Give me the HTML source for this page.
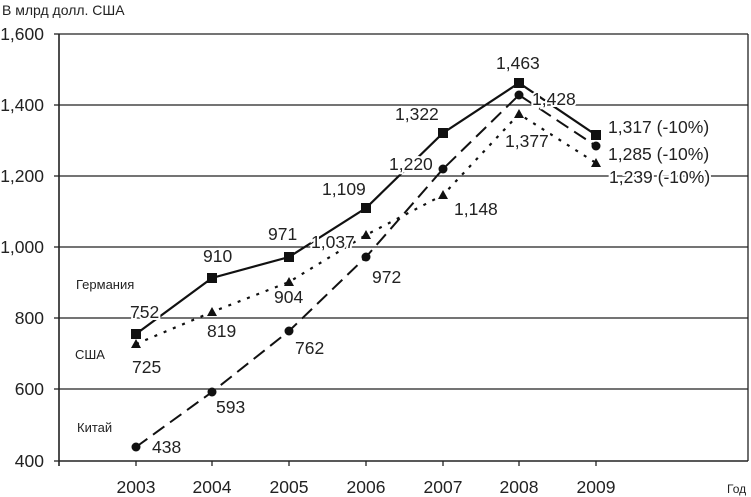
<!DOCTYPE html>
<html><head><meta charset="utf-8"><style>
body{margin:0;background:#fff}
svg{display:block;font-family:"Liberation Sans",Arial,sans-serif}
</style></head><body>
<svg width="751" height="497" viewBox="0 0 751 497">
<rect width="751" height="497" fill="#fff"/>
<g stroke="#222" stroke-width="1.3">
<line x1="59" y1="34" x2="748" y2="34"/>
<line x1="59" y1="105" x2="748" y2="105"/>
<line x1="59" y1="176" x2="748" y2="176"/>
<line x1="59" y1="247" x2="748" y2="247"/>
<line x1="59" y1="318" x2="748" y2="318"/>
<line x1="59" y1="389" x2="748" y2="389"/>
<line x1="59" y1="461" x2="748" y2="461" stroke-width="1.6"/>
<line x1="59" y1="34" x2="59" y2="466" stroke-width="1.6"/>
<line x1="748" y1="34" x2="748" y2="461"/>
<line x1="54" y1="34" x2="59" y2="34"/><line x1="54" y1="105" x2="59" y2="105"/><line x1="54" y1="176" x2="59" y2="176"/><line x1="54" y1="247" x2="59" y2="247"/><line x1="54" y1="318" x2="59" y2="318"/><line x1="54" y1="389" x2="59" y2="389"/><line x1="54" y1="461" x2="59" y2="461"/>
<line x1="136" y1="461" x2="136" y2="466"/><line x1="212" y1="461" x2="212" y2="466"/><line x1="289" y1="461" x2="289" y2="466"/><line x1="366" y1="461" x2="366" y2="466"/><line x1="443" y1="461" x2="443" y2="466"/><line x1="519" y1="461" x2="519" y2="466"/><line x1="596" y1="461" x2="596" y2="466"/>
</g>
<g font-size="17.5" fill="#222" text-anchor="end">
<text x="44" y="40">1,600</text><text x="44" y="111">1,400</text><text x="44" y="182">1,200</text><text x="44" y="253">1,000</text><text x="44" y="324">800</text><text x="44" y="395">600</text><text x="44" y="467">400</text>
</g>
<g font-size="17.5" fill="#222" text-anchor="middle">
<text x="136" y="493">2003</text><text x="212" y="493">2004</text><text x="289" y="493">2005</text><text x="366" y="493">2006</text><text x="443" y="493">2007</text><text x="519" y="493">2008</text><text x="596" y="493">2009</text>
</g>
<text x="2" y="15" font-size="14" fill="#222">В млрд долл. США</text>
<text x="727" y="493" font-size="12" fill="#222">Год</text>
<g font-size="13" fill="#222"><text x="76" y="289">Германия</text><text x="75" y="359">США</text><text x="77" y="432">Китай</text></g>
<!-- series -->
<polyline points="136,334 212,278 289,257 366,208 443,133 519,83 596,135" fill="none" stroke="#111" stroke-width="2.2"/>
<polyline points="136,344 212,312 289,282 366,235 443,195 519,114 596,163" fill="none" stroke="#111" stroke-width="2.2" stroke-dasharray="3,7"/>
<polyline points="136,447 212,392 289,331 366,257 443,169 519,95 596,146" fill="none" stroke="#111" stroke-width="2" stroke-dasharray="14,7"/>
<g fill="#111">
<g transform="translate(-5,-5)"><rect x="136" y="334" width="10" height="10"/><rect x="212" y="278" width="10" height="10"/><rect x="289" y="257" width="10" height="10"/><rect x="366" y="208" width="10" height="10"/><rect x="443" y="133" width="10" height="10"/><rect x="519" y="83" width="10" height="10"/><rect x="596" y="135" width="10" height="10"/></g>
<circle cx="136" cy="447" r="4.5"/><circle cx="212" cy="392" r="4.5"/><circle cx="289" cy="331" r="4.5"/><circle cx="366" cy="257" r="4.5"/><circle cx="443" cy="169" r="4.5"/><circle cx="519" cy="95" r="4.5"/><circle cx="596" cy="146" r="4.5"/>
<g><polygon points="136,339 141,348 131,348"/><polygon points="212,307 217,316 207,316"/><polygon points="289,277 294,286 284,286"/><polygon points="366,230 371,239 361,239"/><polygon points="443,190 448,199 438,199"/><polygon points="519,109 524,118 514,118"/><polygon points="596,158 601,167 591,167"/></g>
</g>
<!-- labels -->
<g font-size="17.5" fill="#222" stroke="#fff" stroke-width="4" paint-order="stroke">
<text x="130" y="318">752</text><text x="203" y="262">910</text><text x="268" y="240">971</text><text x="322" y="195">1,109</text><text x="395" y="120">1,322</text><text x="496" y="69">1,463</text>
<text x="132" y="373">725</text><text x="207" y="337">819</text><text x="274" y="303">904</text><text x="311" y="248">1,037</text><text x="454" y="215">1,148</text><text x="505" y="147">1,377</text>
<text x="152" y="453">438</text><text x="216" y="413">593</text><text x="295" y="354">762</text><text x="372" y="283">972</text><text x="389" y="170">1,220</text><text x="532" y="105">1,428</text>
<text x="608" y="133">1,317 (-10%)</text><text x="608" y="160">1,285 (-10%)</text><text x="609" y="183">1,239 (-10%)</text>
</g>
</svg>
</body></html>
